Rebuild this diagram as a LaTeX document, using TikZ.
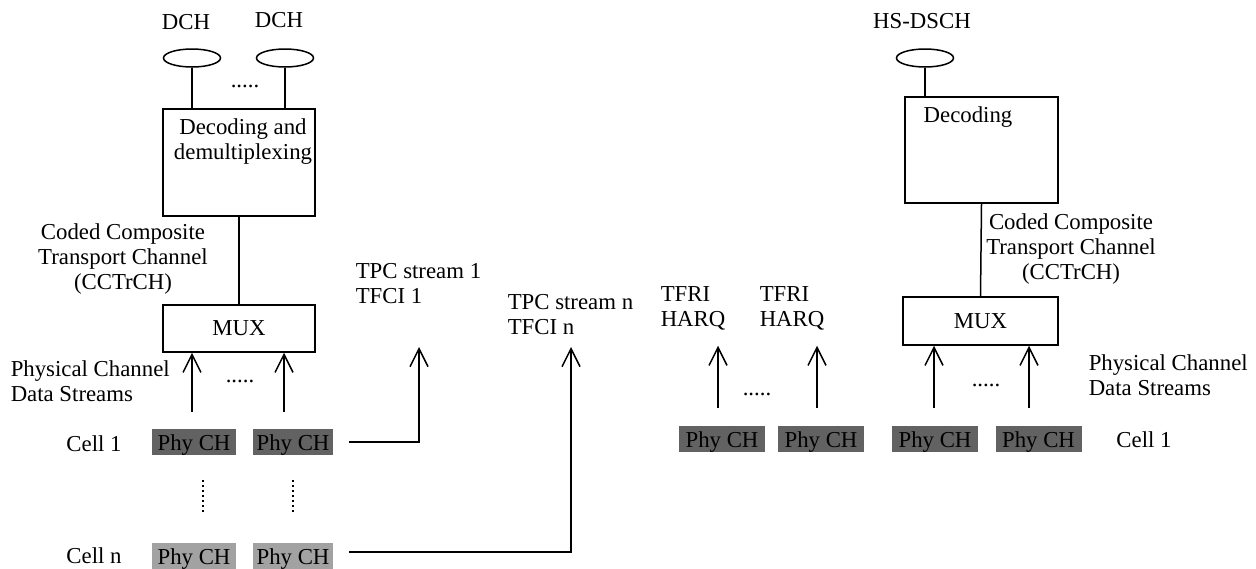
\documentclass[tikz,border=0pt]{standalone}
\usepackage{fontspec}
\setmainfont{Liberation Serif}
\usetikzlibrary{shapes.geometric,arrows.meta}
\definecolor{phydark}{HTML}{626262}
\definecolor{phylight}{HTML}{A2A2A2}
\tikzset{every path/.style={black,line width=0.75pt}, every node/.style={inner sep=0pt, font=\fontsize{11.4}{12.5}\selectfont},
  box/.style={draw, rectangle},
  chan/.style={draw, ellipse, minimum width=28.5pt, minimum height=9pt},
  phy/.style={rectangle, minimum width=42pt, minimum height=13pt, text height=8.8pt, text depth=0pt},
  arr/.style={-{Straight Barb[length=9pt,width=9pt,line width=0.75pt]}},
  vdots/.style={dash pattern=on 1.2pt off 1.3pt, line width=1.1pt}}

\begin{document}
\begin{tikzpicture}[x=0.5pt,y=-0.5pt]
   \useasboundingbox (0,0) rectangle (1256,568);
   % left receiver
   \begin{scope}
    \node (dchA) at (186,22) {DCH};
    \node (dchB) at (279,20) {DCH};
    \node[chan] (ea) at (192,58) {};
    \node[chan] (eb) at (285,58) {};
    \node (dotA) at (245,86) {.....};
    \node[box, minimum width=76pt, minimum height=53.5pt] (decL) at (239,162.5) {};
    \node[align=center] (decLtxt) at (243,142) {Decoding and\\demultiplexing};
    \draw (ea) -- (ea.south |- decL.north);
    \draw (eb) -- (eb.south |- decL.north);
    \node[align=center] (cctL) at (123,259) {Coded Composite\\Transport Channel\\(CCTrCH)};
    \node[box, minimum width=76pt, minimum height=23.5pt] (muxL) at (239,328.5) {MUX};
    \draw (decL.south) -- (muxL.north);
    \node[align=left, anchor=west] (pcdL) at (10,381) {Physical Channel\\Data Streams};
    \node (dotB) at (240,381) {.....};
    \node (cellA) at (94,444) {Cell 1};
    \node (cellN) at (94,556) {Cell n};
    \node[phy, fill=phydark] (pA1) at (194,442) {Phy CH};
    \node[phy, fill=phydark, minimum width=40pt] (pB1) at (293,442) {Phy CH};
    \node[phy, fill=phylight] (pAn) at (194,556) {Phy CH};
    \node[phy, fill=phylight, minimum width=40pt] (pBn) at (293,556) {Phy CH};
    \coordinate (fA) at (192,412);
    \coordinate (fB) at (284,412);
    \draw[arr] (fA) -- (fA |- muxL.south);
    \draw[arr] (fB) -- (fB |- muxL.south);
    \draw[vdots] (203,480) -- (203,512);
    \draw[vdots] (293,480) -- (293,512);
    % TPC / TFCI streams
    \node[align=left, anchor=west] (tpcA) at (355,284) {TPC stream 1\\TFCI 1};
    \node[align=left, anchor=west] (tpcN) at (507,315) {TPC stream n\\TFCI n};
    \coordinate (tA) at (419,347);
    \coordinate (tN) at (571,347);
    \draw[arr] ([xshift=7.5pt]pB1.east) -| (tA);
    \draw[arr] ([xshift=7.5pt,yshift=2pt]pBn.east) -| (tN);
   \end{scope}
   % right receiver
   \begin{scope}
    \node (hsd) at (922,21) {HS-DSCH};
    \node[chan] (eh) at (925,58) {};
    \node[box, minimum width=76.5pt, minimum height=53pt] (decR) at (981.5,150) {};
    \node (decRtxt) at (968,117) {Decoding};
    \draw (eh) -- (eh.south |- decR.north);
    \node[align=center] (cctR) at (1071,249) {Coded Composite\\Transport Channel\\(CCTrCH)};
    \node[box, minimum width=77.5pt, minimum height=24pt] (muxR) at (980.5,321) {MUX};
    \draw (decR.south) -- (muxR.north);
    \node[align=left, anchor=west] (tfA) at (660,308) {TFRI\\HARQ};
    \node[align=left, anchor=west] (tfB) at (759,308) {TFRI\\HARQ};
    \node[align=left, anchor=west] (pcdR) at (1088,375) {Physical Channel\\Data Streams};
    \node (dotC) at (757,394) {.....};
    \node (dotD) at (986,385) {.....};
    \foreach \nm/\px in {qA/722, qB/821, qC/935, qD/1038.5}
      \node[phy, fill=phydark, minimum width=43pt] (\nm) at (\px,439) {Phy CH};
    \node (cellR) at (1144,440) {Cell 1};
    \foreach \nm/\px in {gA/718, gB/817, gC/934, gD/1029}
      \coordinate (\nm) at (\px,408);
    \draw[arr] (gA) -- (gA |- muxR.south);
    \draw[arr] (gB) -- (gB |- muxR.south);
    \draw[arr] (gC) -- (gC |- muxR.south);
    \draw[arr] (gD) -- (gD |- muxR.south);
   \end{scope}
\end{tikzpicture}
\end{document}
